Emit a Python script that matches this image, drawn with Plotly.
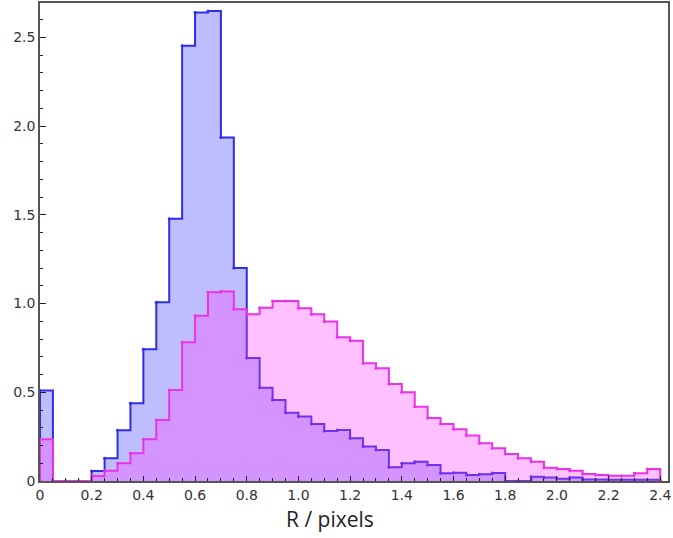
import numpy as np
import plotly.graph_objects as go

bin_width = 0.05
n_bins = 48

blue_values = [0.51, 0, 0, 0, 0.056, 0.128, 0.286, 0.438, 0.743, 1.008,
               1.478, 2.453, 2.641, 2.649, 1.936, 1.20, 0.693, 0.526, 0.457, 0.385,
               0.363, 0.321, 0.282, 0.288, 0.241, 0.194, 0.175, 0.077, 0.10, 0.109,
               0.09, 0.043, 0.046, 0.034, 0.038, 0.045, 0, 0, 0.024, 0.02,
               0.012, 0.02, 0.008, 0.008, 0.007, 0.007, 0.007, 0.007]

magenta_values = [0.235, 0, 0, 0, 0.028, 0.058, 0.10, 0.156, 0.235, 0.344,
                  0.513, 0.782, 0.931, 1.064, 1.068, 0.968, 0.94, 0.977, 1.015, 1.015,
                  0.974, 0.94, 0.899, 0.81, 0.791, 0.664, 0.636, 0.547, 0.50, 0.419,
                  0.355, 0.321, 0.291, 0.256, 0.213, 0.184, 0.152, 0.128, 0.109, 0.075,
                  0.068, 0.058, 0.039, 0.034, 0.03, 0.03, 0.043, 0.068]

x_tick_vals = [0, 0.2, 0.4, 0.6, 0.8, 1.0, 1.2, 1.4, 1.6, 1.8, 2.0, 2.2, 2.4]
x_tick_text = ["0", "0.2", "0.4", "0.6", "0.8", "1.0", "1.2", "1.4", "1.6", "1.8", "2.0", "2.2", "2.4"]
y_tick_vals = [0, 0.5, 1.0, 1.5, 2.0, 2.5]
y_tick_text = ["0", "0.5", "1.0", "1.5", "2.0", "2.5"]
x_title = "R / pixels"

edges = np.round(np.arange(n_bins + 1) * bin_width, 3)


def step_xy(values):
    xs = [0.0] + list(edges)
    ys = [0.0] + list(values) + [0.0]
    return xs, ys


fig = go.Figure()

for vals, line_col, fill_col in [
    (blue_values, "rgb(45,45,235)", "rgba(40,40,255,0.30)"),
    (magenta_values, "rgb(235,50,235)", "rgba(255,60,255,0.32)"),
]:
    xs, ys = step_xy(vals)
    fig.add_trace(go.Scatter(
        x=xs, y=ys, mode="lines+markers", line_shape="hv",
        line=dict(color=line_col, width=2),
        marker=dict(size=3, color=line_col),
        fill="tozeroy", fillcolor=fill_col,
        showlegend=False, hoverinfo="skip", cliponaxis=True,
    ))

fig.update_layout(
    width=673, height=538,
    margin=dict(l=40, r=5, t=3, b=57),
    paper_bgcolor="white", plot_bgcolor="white",
    showlegend=False,
    annotations=[dict(
        text=x_title, xref="paper", yref="paper",
        x=0.4618, y=-0.047, xanchor="center", yanchor="top",
        showarrow=False,
        font=dict(family="Open Sans", size=21, color="#222"),
    )],
)
fig.update_xaxes(
    range=[0, 2.43], tickvals=x_tick_vals, ticktext=x_tick_text,
    ticks="inside", ticklen=5, tickcolor="#222",
    minor=dict(dtick=0.05, tick0=0, ticks="inside", ticklen=3, tickcolor="#222"),
    showline=True, linecolor="#555", linewidth=1.5, mirror=True,
    showgrid=False, zeroline=False, automargin=False,
    tickfont=dict(family="DejaVu Sans", size=14, color="#333"),
)
fig.update_yaxes(
    range=[0, 2.694], tickvals=y_tick_vals, ticktext=y_tick_text,
    ticks="inside", ticklen=6, tickcolor="#222",
    minor=dict(dtick=0.1, tick0=0, ticks="inside", ticklen=3, tickcolor="#222"),
    showline=True, linecolor="#555", linewidth=1.5, mirror=True,
    showgrid=False, zeroline=False, automargin=False,
    tickfont=dict(family="DejaVu Sans", size=14, color="#333"),
)

fig.write_html(
    "out.html",
    config={"displayModeBar": False},
    post_script="document.body.style.margin='0';document.body.style.overflow='hidden';",
)
